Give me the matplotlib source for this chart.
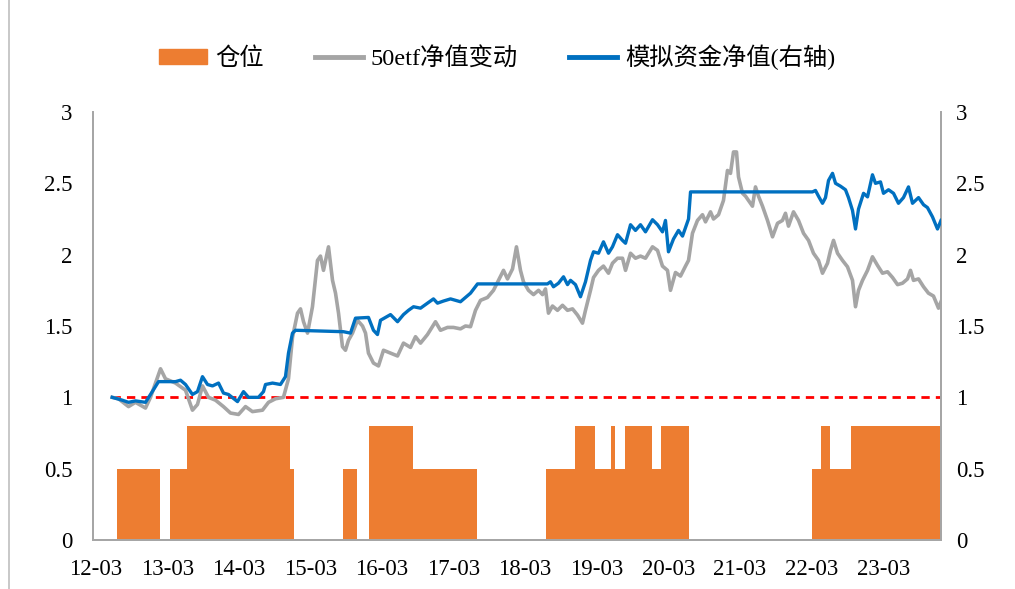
import matplotlib
matplotlib.use("Agg")
import matplotlib.pyplot as plt
from matplotlib.lines import Line2D

# ---------------- data (x in decimal years) ----------------
fund_t = [2012.395, 2012.535, 2012.623, 2012.720, 2012.860, 2012.930, 2013.042, 2013.279,
          2013.349, 2013.419, 2013.516, 2013.586, 2013.656, 2013.726, 2013.796, 2013.880,
          2013.949, 2014.019, 2014.145, 2014.229, 2014.299, 2014.438, 2014.508, 2014.536,
          2014.634, 2014.745, 2014.815, 2014.857, 2014.913, 2014.955, 2015.625, 2015.723,
          2015.793, 2015.974, 2016.044, 2016.100, 2016.142, 2016.282, 2016.380, 2016.463,
          2016.533, 2016.603, 2016.701, 2016.798, 2016.882, 2016.938, 2017.022, 2017.120,
          2017.259, 2017.329, 2017.399, 2017.497,
          2018.474, 2018.516, 2018.558, 2018.628, 2018.698, 2018.754, 2018.796, 2018.865,
          2018.935, 2019.005, 2019.075, 2019.117, 2019.187, 2019.256, 2019.326, 2019.382,
          2019.452, 2019.522, 2019.564, 2019.634, 2019.703, 2019.773, 2019.843, 2019.941,
          2020.011, 2020.080, 2020.122, 2020.164, 2020.234, 2020.304, 2020.360, 2020.402,
          2020.444, 2020.472,
          2022.175, 2022.217, 2022.259, 2022.315, 2022.357, 2022.399, 2022.455, 2022.497,
          2022.566, 2022.636, 2022.678, 2022.734, 2022.776, 2022.818, 2022.888, 2022.944,
          2023.013, 2023.055, 2023.125, 2023.167, 2023.237, 2023.307, 2023.376, 2023.446,
          2023.516, 2023.572, 2023.656, 2023.726, 2023.781, 2023.851, 2023.921, 2023.970]
fund_v = [1.00, 0.98, 0.965, 0.975, 0.965, 1.02, 1.11, 1.11,
          1.12, 1.09, 1.02, 1.04, 1.145, 1.09, 1.08, 1.10,
          1.03, 1.02, 0.97, 1.04, 1.00, 1.00, 1.04, 1.09,
          1.10, 1.09, 1.145, 1.31, 1.45, 1.47, 1.46, 1.45,
          1.555, 1.56, 1.47, 1.44, 1.54, 1.58, 1.53, 1.58,
          1.61, 1.635, 1.625, 1.66, 1.69, 1.66, 1.675, 1.69,
          1.67, 1.70, 1.73, 1.795,
          1.795, 1.81, 1.775, 1.80, 1.845, 1.79, 1.82, 1.79,
          1.705, 1.81, 1.96, 2.02, 2.01, 2.09, 2.01, 2.055,
          2.14, 2.10, 2.08, 2.21, 2.17, 2.21, 2.16, 2.245,
          2.21, 2.16, 2.24, 2.02, 2.11, 2.17, 2.13, 2.19,
          2.25, 2.44,
          2.44, 2.45, 2.41, 2.36, 2.40, 2.52, 2.57, 2.50,
          2.48, 2.455, 2.40, 2.31, 2.18, 2.32, 2.43, 2.405,
          2.56, 2.50, 2.51, 2.43, 2.455, 2.43, 2.36, 2.40,
          2.475, 2.36, 2.40, 2.35, 2.33, 2.265, 2.18, 2.24]

etf_t = [2012.395, 2012.483, 2012.623, 2012.720, 2012.860, 2012.930, 2013.000, 2013.070,
         2013.139, 2013.279, 2013.419, 2013.516, 2013.586, 2013.656, 2013.740, 2013.838,
         2013.949, 2014.047, 2014.159, 2014.257, 2014.354, 2014.494, 2014.578, 2014.676,
         2014.787, 2014.857, 2014.913, 2014.983, 2015.025, 2015.067, 2015.123, 2015.192,
         2015.262, 2015.304, 2015.346, 2015.416, 2015.472, 2015.514, 2015.556, 2015.611,
         2015.653, 2015.695, 2015.751, 2015.821, 2015.891, 2015.933, 2015.974, 2016.044,
         2016.114, 2016.184, 2016.282, 2016.380, 2016.463, 2016.561, 2016.631, 2016.701,
         2016.798, 2016.910, 2016.980, 2017.078, 2017.161, 2017.259, 2017.329,
         2017.399, 2017.469, 2017.539, 2017.636, 2017.720, 2017.790, 2017.860, 2017.916,
         2017.986, 2018.041, 2018.097, 2018.139, 2018.209, 2018.279, 2018.349, 2018.405,
         2018.446, 2018.488, 2018.544, 2018.614, 2018.684, 2018.754, 2018.824, 2018.893,
         2018.963, 2019.005, 2019.075, 2019.117, 2019.187, 2019.256, 2019.326, 2019.382,
         2019.452, 2019.522, 2019.564, 2019.634, 2019.703, 2019.773, 2019.843, 2019.941,
         2020.011, 2020.080, 2020.150, 2020.192, 2020.262, 2020.332, 2020.402, 2020.444,
         2020.499, 2020.569, 2020.639, 2020.681, 2020.751, 2020.793, 2020.863, 2020.932,
         2020.988, 2021.030, 2021.072, 2021.114, 2021.142, 2021.198, 2021.240, 2021.282,
         2021.337, 2021.379, 2021.421, 2021.477, 2021.547, 2021.617, 2021.687, 2021.756,
         2021.798, 2021.840, 2021.910, 2021.980, 2022.050, 2022.120, 2022.189, 2022.259,
         2022.315, 2022.385, 2022.427, 2022.469, 2022.525, 2022.594, 2022.664, 2022.734,
         2022.776, 2022.818, 2022.874, 2022.944, 2023.013, 2023.083, 2023.153, 2023.223,
         2023.293, 2023.363, 2023.432, 2023.502, 2023.544, 2023.586, 2023.656, 2023.726,
         2023.795, 2023.865, 2023.935, 2023.970]
etf_v = [1.00, 0.99, 0.935, 0.965, 0.925, 1.00, 1.10, 1.20,
         1.13, 1.10, 1.05, 0.91, 0.95, 1.08, 1.00, 0.98,
         0.935, 0.89, 0.88, 0.935, 0.90, 0.91, 0.965, 0.99,
         1.00, 1.13, 1.42, 1.59, 1.62, 1.53, 1.45, 1.635,
         1.96, 1.99, 1.89, 2.055, 1.82, 1.73, 1.59, 1.355,
         1.33, 1.40, 1.45, 1.54, 1.50, 1.45, 1.31, 1.24,
         1.22, 1.33, 1.31, 1.29, 1.38, 1.35, 1.425, 1.38,
         1.44, 1.53, 1.47, 1.49, 1.49, 1.48, 1.50,
         1.495, 1.61, 1.68, 1.70, 1.75, 1.82, 1.89, 1.83,
         1.90, 2.055, 1.89, 1.81, 1.75, 1.72, 1.75, 1.72,
         1.76, 1.59, 1.64, 1.61, 1.645, 1.61, 1.62, 1.577,
         1.52, 1.61, 1.75, 1.84, 1.89, 1.92, 1.87, 1.94,
         1.975, 1.975, 1.89, 2.01, 1.975, 1.99, 1.975, 2.055,
         2.03, 1.92, 1.89, 1.75, 1.875, 1.85, 1.92, 1.96,
         2.15, 2.24, 2.28, 2.23, 2.30, 2.25, 2.28, 2.38,
         2.59, 2.57, 2.72, 2.72, 2.545, 2.43, 2.41, 2.38,
         2.34, 2.475, 2.41, 2.34, 2.24, 2.125, 2.22, 2.24,
         2.29, 2.20, 2.30, 2.24, 2.15, 2.10, 2.01, 1.96,
         1.87, 1.94, 2.03, 2.10, 2.01, 1.96, 1.915, 1.82,
         1.635, 1.75, 1.82, 1.89, 1.985, 1.925, 1.87, 1.88,
         1.84, 1.79, 1.80, 1.83, 1.89, 1.82, 1.83, 1.775,
         1.73, 1.71, 1.625, 1.67]

pos_t = [2012.465, 2013.056, 2013.209, 2013.442, 2014.885, 2014.941, 2015.625, 2015.817,
         2015.980, 2016.599, 2017.493, 2018.456, 2018.865, 2019.131, 2019.368, 2019.424,
         2019.560, 2019.927, 2020.066, 2020.450, 2022.175, 2022.301, 2022.413, 2022.716,
         2023.970]
pos_v = [0.5, 0, 0.5, 0.8, 0.5, 0, 0.5, 0,
         0.8, 0.5, 0, 0.5, 0.8, 0.5, 0.8, 0.5,
         0.8, 0.5, 0.8, 0, 0.5, 0.8, 0.5, 0.8,
         0.8]

baseline = 1.0
tick_years = [2012, 2013, 2014, 2015, 2016, 2017, 2018, 2019, 2020, 2021, 2022, 2023]
tick_labels = ['12-03', '13-03', '14-03', '15-03', '16-03', '17-03', '18-03', '19-03',
               '20-03', '21-03', '22-03', '23-03']
y_ticks = [0, 0.5, 1, 1.5, 2, 2.5, 3]
y_labels = ['0', '0.5', '1', '1.5', '2', '2.5', '3']
legend_labels = ['仓位', '50etf净值变动', '模拟资金净值(右轴)']

# ---------------- style ----------------
ORANGE = '#ED7D31'
GRAY = '#A5A5A5'
BLUE = '#0070C0'
SPINE = '#A6A6A6'
SERIF = 'Liberation Serif'
MIX = ['Liberation Serif', 'Noto Sans CJK SC', 'DejaVu Sans']

fig = plt.figure(figsize=(10.15, 5.89), dpi=100)
ax = fig.add_axes([93 / 1015, 1 - 540 / 589, (941 - 93) / 1015, (540 - 112) / 589])
ax2 = ax.twinx()

ax.fill_between(pos_t, pos_v, step='post', color=ORANGE, linewidth=0, zorder=1)
ax.plot([fund_t[0], fund_t[-1]], [baseline, baseline], color='#FF0000', lw=2.0,
        dashes=(3.0, 2.2), zorder=2)
ax.plot(etf_t, etf_v, color=GRAY, lw=2.6, zorder=3, solid_joinstyle='round')
ax2.plot(fund_t, fund_v, color=BLUE, lw=2.4, zorder=4, solid_joinstyle='round')

x_left = 2012.127
x_right = 2023.970
for a in (ax, ax2):
    a.set_xlim(x_left, x_right)
    a.set_ylim(0, 3)
    a.set_yticks(y_ticks)
    for s in a.spines.values():
        s.set_color(SPINE)
        s.set_linewidth(1.3)
    a.spines['top'].set_visible(False)

ax.set_yticklabels(y_labels, fontfamily=SERIF, fontsize=16.5)
ax2.set_yticklabels(y_labels, fontfamily=SERIF, fontsize=16.5)
ax.tick_params(axis='y', length=0, pad=15)
ax2.tick_params(axis='y', length=0, pad=11)

ax.set_xticks([y + 0.162 for y in tick_years])
ax.set_xticklabels(tick_labels, fontfamily=SERIF, fontsize=16.5)
ax.tick_params(axis='x', length=0, pad=14)

handles = [plt.Rectangle((0, 0), 1, 1, color=ORANGE),
           Line2D([0], [0], color=GRAY, lw=3.5),
           Line2D([0], [0], color=BLUE, lw=3.5)]
fig.legend(handles, legend_labels, loc='center', bbox_to_anchor=(0.49, 0.903), ncol=3,
           frameon=False, prop={'family': MIX, 'size': 17.5}, handlelength=1.98,
           handleheight=0.55, handletextpad=0.33, columnspacing=2.1)

# chart-area border line at left edge
fig.add_artist(Line2D([9 / 1015, 9 / 1015], [0, 1], color='#BFBFBF', lw=1.2,
                      transform=fig.transFigure))

fig.savefig('out.png', dpi=100)
